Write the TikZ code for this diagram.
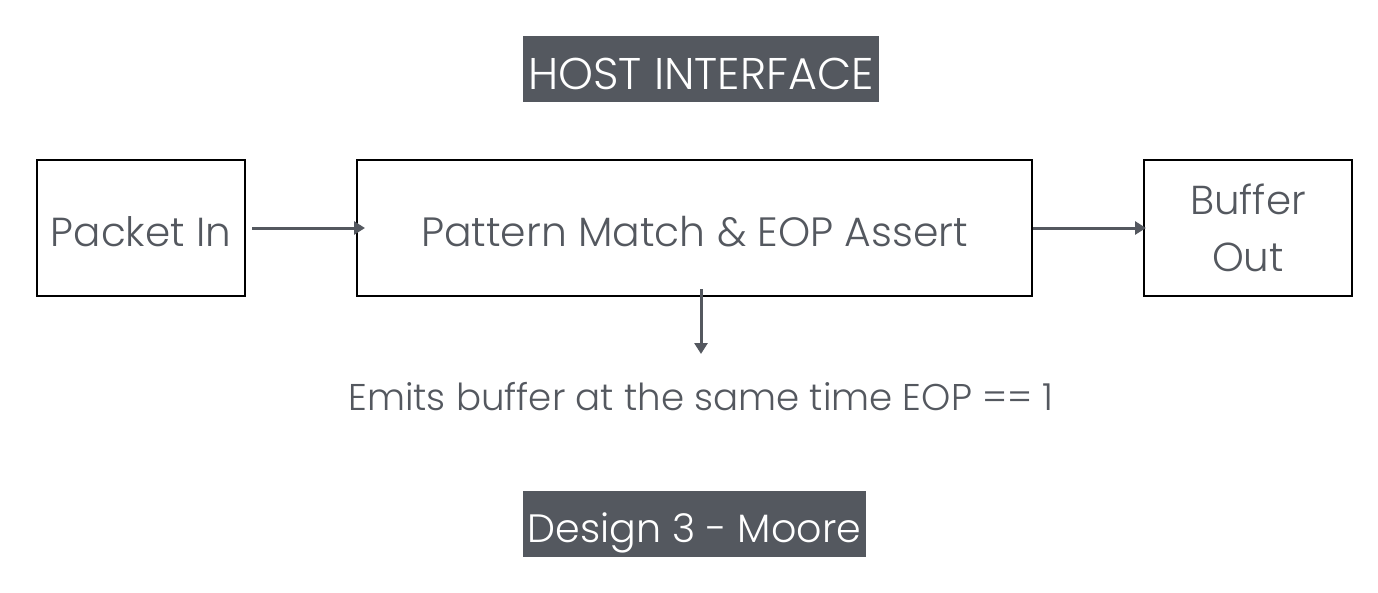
\documentclass[tikz,border=0pt]{standalone}
\usepackage{fontspec}
\setmainfont{Poppins Light}
\usetikzlibrary{arrows.meta}
\definecolor{txtgray}{HTML}{54585F}
\tikzset{
  blk/.style={draw=black, line width=1.3pt, fill=white, text=txtgray, align=center, inner sep=0pt},
  banner/.style={fill=txtgray, text=white, inner sep=0pt, text depth=0pt},
  conn/.style={draw=txtgray, line width=3pt, -{Triangle[length=11pt,width=13pt]}},
  fs/.style={font=\fontsize{#1}{#1}\selectfont}
}
\begin{document}
\begin{tikzpicture}[x=1pt,y=-1pt]
\useasboundingbox (0,0) rectangle (1378,592);
\node[banner, minimum width=356pt, minimum height=66pt, fs=44.4, text height=40pt] (host) at (701,69) {HOST INTERFACE};
\node[blk, minimum width=208pt, minimum height=136pt, fs=40.5, text height=36pt, text depth=0pt] (pin) at (141,228) {Packet In};
\node[blk, minimum width=675pt, minimum height=136pt, fs=40.9, text height=36pt, text depth=0pt] (pm) at (694.5,228) {Pattern Match \& EOP Assert};
\node[blk, minimum width=208pt, minimum height=136pt, font=\fontsize{40.4}{57}\selectfont, text width=200pt] (bout) at (1248,228) {Buffer\\Out};
\node[fs=37.2, text=txtgray] (emit) at (701,397) {Emits buffer at the same time EOP == 1};
\node[banner, minimum width=343pt, minimum height=66pt, fs=39.6, text height=37pt] (des) at (694.5,524) {Design 3 - Moore};
\coordinate (a1s) at (252,228);
\coordinate (a1e) at (365,228);
\coordinate (a2s) at (1033,228);
\coordinate (a2e) at (1146,228);
\coordinate (a3s) at (701,289);
\coordinate (a3e) at (701,354);
\draw[conn] (a1s) -- (a1e);
\draw[conn] (a2s) -- (a2e);
\draw[conn] (a3s) -- (a3e);
\end{tikzpicture}
\end{document}
